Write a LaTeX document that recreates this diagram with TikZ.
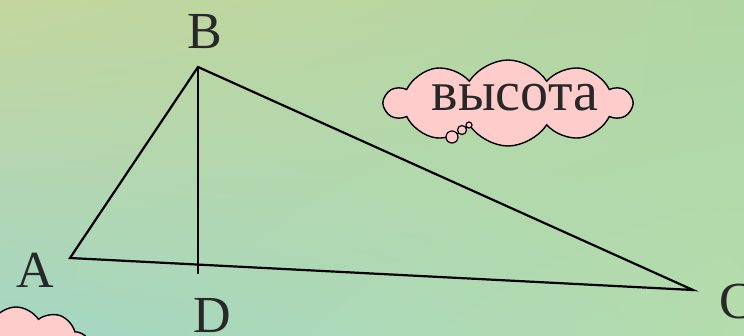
\documentclass[tikz,border=0pt]{standalone}
\usepackage{fontspec}
\setmainfont{Liberation Serif}
\usetikzlibrary{shapes.symbols,shadings}
\definecolor{bgUL}{RGB}{196,214,158}
\definecolor{bgUR}{RGB}{176,214,164}
\definecolor{bgLL}{RGB}{164,214,196}
\definecolor{bgLR}{RGB}{180,220,172}
\definecolor{cloudpink}{RGB}{255,204,204}
\definecolor{inkgray}{RGB}{40,40,40}
\tikzset{
  lbl/.style={font=\fontsize{52}{52}\selectfont, text=inkgray, inner sep=0pt},
  edge/.style={draw=black, line width=2.2pt},
  thought/.style={cloud, cloud puffs=10, cloud puff arc=115, aspect=2.8, draw=black, line width=1.4pt, fill=cloudpink, inner sep=0pt},
  bubble/.style={circle, draw=black, line width=1.2pt, fill=cloudpink, inner sep=0pt}
}
\begin{document}
\begin{tikzpicture}[x=1pt,y=-1pt]
\useasboundingbox (0,0) rectangle (744,335);
\shade[upper left=bgUL, upper right=bgUR, lower left=bgLL, lower right=bgLR] (0,0) rectangle (744,335);
\begin{scope}
\clip (0,0) rectangle (744,335);
% triangle
\coordinate (A) at (70,258);
\coordinate (B) at (198,67);
\coordinate (C) at (693,290);
\coordinate (Dend) at (198,274);
\draw[edge, line join=miter] (A) -- (B) -- (C) -- cycle;
\draw[edge] (B) -- (Dend);
% labels
\node[lbl] (la) at (35,270) {A};
\node[lbl] (lb) at (205,32) {B};
\node[lbl] (lc) at (737,302) {C};
\node[lbl] (ld) at (212,316) {D};
% thought cloud
\node[thought, minimum width=246pt, minimum height=86pt] (cl) at (508,103) {};
\node[font=\fontsize{56}{56}\selectfont, text=inkgray, inner sep=0pt] (tx) at (515,98) {высота};
\node[bubble, minimum size=12pt] (b1) at (452,137) {};
\node[bubble, minimum size=9pt] (b2) at (462,130) {};
\node[bubble, minimum size=6pt] (b3) at (469,125) {};
% partial cloud bottom-left
\node[thought, minimum width=150pt, minimum height=90pt] (cl2) at (16,352) {};
\end{scope}
\end{tikzpicture}
\end{document}
